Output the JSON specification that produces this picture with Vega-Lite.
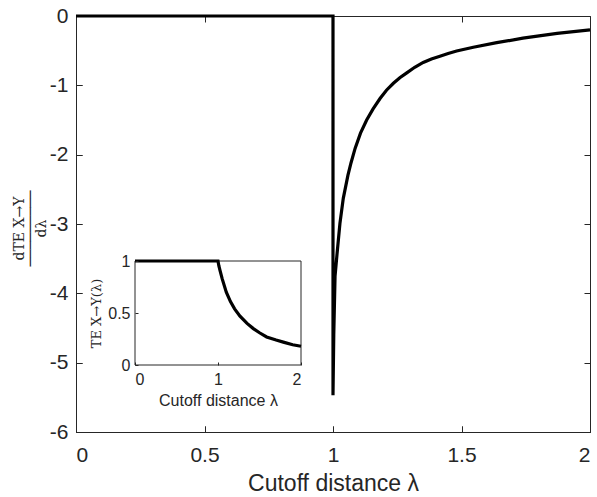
{
  "$schema": "https://vega.github.io/schema/vega-lite/v6.json",
  "width": 514,
  "height": 416,
  "autosize": "none",
  "padding": {"left": 76, "top": 16, "right": 7, "bottom": 65},
  "background": "white",
  "config": {
    "view": {"stroke": "#262626", "strokeWidth": 1},
    "axis": {
      "labelFont": "Liberation Sans",
      "titleFont": "Liberation Sans",
      "labelColor": "#262626",
      "titleColor": "#262626",
      "titleFontWeight": "normal"
    }
  },
  "datasets": {
    "deriv": [
      {"i": 0, "lambda": 0, "d": 0},
      {"i": 1, "lambda": 1, "d": 0},
      {"i": 2, "lambda": 1.0, "d": -5.47},
      {"i": 3, "lambda": 1.003, "d": -4.6},
      {"i": 4, "lambda": 1.008, "d": -3.75},
      {"i": 5, "lambda": 1.016, "d": -3.42},
      {"i": 6, "lambda": 1.027, "d": -2.99},
      {"i": 7, "lambda": 1.04, "d": -2.63},
      {"i": 8, "lambda": 1.058, "d": -2.3},
      {"i": 9, "lambda": 1.07, "d": -2.12},
      {"i": 10, "lambda": 1.086, "d": -1.91},
      {"i": 11, "lambda": 1.107, "d": -1.69},
      {"i": 12, "lambda": 1.131, "d": -1.5},
      {"i": 13, "lambda": 1.156, "d": -1.34},
      {"i": 14, "lambda": 1.183, "d": -1.19},
      {"i": 15, "lambda": 1.208, "d": -1.07},
      {"i": 16, "lambda": 1.235, "d": -0.97},
      {"i": 17, "lambda": 1.26, "d": -0.89},
      {"i": 18, "lambda": 1.287, "d": -0.82},
      {"i": 19, "lambda": 1.318, "d": -0.74},
      {"i": 20, "lambda": 1.351, "d": -0.67},
      {"i": 21, "lambda": 1.383, "d": -0.62},
      {"i": 22, "lambda": 1.416, "d": -0.58},
      {"i": 23, "lambda": 1.448, "d": -0.54},
      {"i": 24, "lambda": 1.481, "d": -0.505},
      {"i": 25, "lambda": 1.546, "d": -0.45},
      {"i": 26, "lambda": 1.637, "d": -0.385},
      {"i": 27, "lambda": 1.739, "d": -0.32},
      {"i": 28, "lambda": 1.872, "d": -0.25},
      {"i": 29, "lambda": 2.0, "d": -0.2}
    ],
    "te": [
      {"lambda": 0, "te": 1},
      {"lambda": 1, "te": 1},
      {"lambda": 1.01, "te": 0.955},
      {"lambda": 1.024, "te": 0.91},
      {"lambda": 1.05, "te": 0.83},
      {"lambda": 1.1, "te": 0.7},
      {"lambda": 1.15, "te": 0.61},
      {"lambda": 1.2, "te": 0.54},
      {"lambda": 1.265, "te": 0.47},
      {"lambda": 1.35, "te": 0.4},
      {"lambda": 1.426, "te": 0.35},
      {"lambda": 1.5, "te": 0.31},
      {"lambda": 1.586, "te": 0.27},
      {"lambda": 1.7, "te": 0.24},
      {"lambda": 1.787, "te": 0.22},
      {"lambda": 1.9, "te": 0.195},
      {"lambda": 2.0, "te": 0.18}
    ]
  },
  "layer": [
    {
      "data": {"name": "deriv"},
      "mark": {"type": "line", "color": "black", "strokeWidth": 3.2, "clip": false},
      "encoding": {
        "x": {
          "field": "lambda", "type": "quantitative",
          "scale": {"domain": [0, 2], "nice": false, "zero": false},
          "axis": {
            "orient": "bottom", "values": [0, 0.5, 1, 1.5, 2],
            "labelExpr": "datum.value == 0 ? '0' : format(datum.value, '~g')",
            "domainColor": "#262626", "ticks": true, "tickSize": -6, "tickColor": "#262626", "tickWidth": 1,
            "labelPadding": 18, "labelFontSize": 21,
            "grid": true, "gridColor": "#262626", "gridWidth": 1, "gridOpacity": 1, "gridDash": [6, 404],
            "title": "Cutoff distance λ", "titleFontSize": 23, "titlePadding": 7
          }
        },
        "y": {
          "field": "d", "type": "quantitative",
          "scale": {"domain": [-6, 0], "nice": false, "zero": false},
          "axis": {
            "orient": "left", "values": [-6, -5, -4, -3, -2, -1, 0],
            "labelExpr": "datum.value < 0 ? '-' + abs(datum.value) : '' + datum.value",
            "domainColor": "#262626", "ticks": true, "tickSize": -6, "tickColor": "#262626", "tickWidth": 1,
            "labelPadding": 14, "labelFontSize": 21,
            "grid": true, "gridColor": "#262626", "gridWidth": 1, "gridOpacity": 1, "gridDash": [6, 502],
            "title": ["dTE X→Y", "─────────", "dλ"], "titleFont": "DejaVu Serif", "titleFontSize": 14,
            "titleLineHeight": 11,
            "titleAngle": -90, "titleX": -57, "titleY": 212, "titleAlign": "center", "titleBaseline": "middle"
          }
        },
        "order": {"field": "i"}
      }
    },
    {
      "data": {"values": [{}]},
      "mark": {"type": "rect", "fill": "white", "stroke": "#262626", "strokeWidth": 1},
      "encoding": {
        "x": {"datum": 0, "type": "quantitative", "scale": {"domain": [0, 2], "range": [59, 225], "nice": false, "zero": false}, "axis": null},
        "x2": {"datum": 2},
        "y": {"datum": 0, "type": "quantitative", "scale": {"domain": [0, 1], "range": [349, 245], "nice": false, "zero": false}, "axis": null},
        "y2": {"datum": 1}
      }
    },
    {
      "data": {"name": "te"},
      "mark": {"type": "line", "color": "black", "strokeWidth": 3.2, "clip": false},
      "encoding": {
        "x": {
          "field": "lambda", "type": "quantitative",
          "scale": {"domain": [0, 2], "range": [59, 225], "nice": false, "zero": false},
          "axis": {
            "orient": "bottom", "offset": -67, "values": [0, 1, 2],
            "labelExpr": "format(datum.value, '~g')",
            "domain": false, "ticks": true, "tickSize": -3, "tickColor": "#262626", "grid": false,
            "labelPadding": 9, "labelFontSize": 16,
            "title": "Cutoff distance λ", "titleFontSize": 16,
            "titleX": 142, "titleY": 35, "titleAlign": "center", "titleBaseline": "middle", "zindex": 1
          }
        },
        "y": {
          "field": "te", "type": "quantitative",
          "scale": {"domain": [0, 1], "range": [349, 245], "nice": false, "zero": false},
          "axis": {
            "orient": "left", "offset": -59, "values": [0, 0.5, 1],
            "labelExpr": "format(datum.value, '~g')",
            "domain": false, "ticks": true, "tickSize": -3, "tickColor": "#262626", "grid": false,
            "labelPadding": 8, "labelFontSize": 16,
            "title": "TE X→Y(λ)", "titleFont": "DejaVu Serif", "titleFontSize": 13,
            "titleAngle": -90, "titleX": -39, "titleY": 297, "titleAlign": "center", "titleBaseline": "middle", "zindex": 1
          }
        }
      }
    }
  ],
  "resolve": {
    "scale": {"x": "independent", "y": "independent"},
    "axis": {"x": "independent", "y": "independent"}
  }
}
